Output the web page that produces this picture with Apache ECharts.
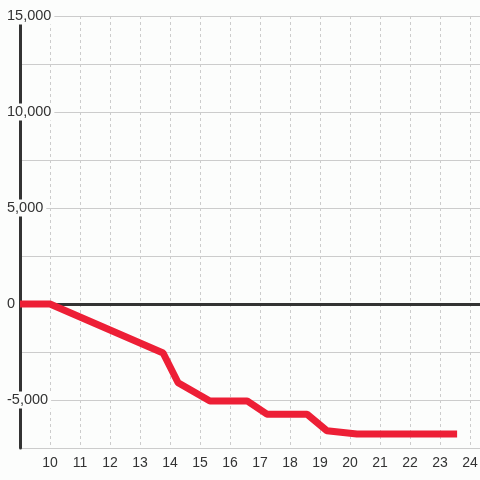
<!DOCTYPE html>
<html>
<head>
<meta charset="utf-8">
<script src="https://cdn.jsdelivr.net/npm/echarts@6/dist/echarts.min.js"></script>
<style>
  html, body { margin: 0; padding: 0; background: #fcfdfc; }
  #main { width: 480px; height: 480px; }
</style>
</head>
<body>
<div id="main"></div>
<script>
// hour of day vs running total
var hours = [9, 10, 13.77, 14.27, 15.33, 16.57, 17.23, 18.57, 19.23, 20.23, 23.57];
var totals = [0, 0, -2550, -4100, -5050, -5050, -5740, -5740, -6600, -6770, -6770];
var yLabelStep = 5000;

function renderChart() {
    var dom = document.getElementById('main');
    var myChart = echarts.init(dom);
    var points = hours.map(function (h, i) { return [h, totals[i]]; });

    var option = {
        backgroundColor: '#fcfdfc',
        animation: false,
        grid: {
            left: 20,
            right: 0,
            top: 16,
            bottom: 32,
            outerBoundsMode: 'none'
        },
        xAxis: {
            type: 'value',
            min: 9,
            max: 24.333,
            interval: 1,
            axisLine: { show: false },
            axisTick: { show: false },
            axisLabel: {
                color: '#333',
                fontSize: 14,
                fontFamily: 'Liberation Sans, Arial, sans-serif',
                margin: 8,
                formatter: function (v) {
                    return (Number.isInteger(v) && v >= 10) ? String(v) : '';
                }
            },
            splitLine: {
                show: true,
                lineStyle: { color: '#cccccc', type: [3, 3], width: 1 }
            },
            z: 0
        },
        yAxis: [{
                // grid lines only
                type: 'value',
                position: 'left',
                min: -7500,
                max: 15000,
                interval: 2500,
                axisLine: { show: false },
                axisTick: { show: false },
                axisLabel: { show: false },
                splitLine: {
                    show: true,
                    lineStyle: { color: '#cccccc', width: 1 }
                },
                z: 0
            },
            {
                // axis line + labels drawn over the grid
                type: 'value',
                position: 'left',
                offset: 0,
                min: -7500,
                max: 15000,
                interval: 2500,
                axisLine: {
                    show: true,
                    lineStyle: { color: '#333', width: 3 }
                },
                axisTick: { show: false },
                splitLine: { show: false },
                axisLabel: {
                    inside: true,
                    align: 'left',
                    margin: -14,
                    formatter: function (v) {
                        if (v % yLabelStep !== 0) return '';
                        return '{b|' + v.toLocaleString('en-US') + '}';
                    },
                    rich: {
                        b: {
                            color: '#333',
                            fontSize: 14.5,
                            fontFamily: 'Liberation Sans, Arial, sans-serif',
                            backgroundColor: '#fcfdfc',
                            padding: [1, 3, 1, 1]
                        }
                    }
                },
                z: 2
            }
        ],
        series: [{
            type: 'line',
            yAxisIndex: 1,
            data: points,
            symbol: 'none',
            lineStyle: { color: '#ed1f36', width: 7 },
            z: 3,
            markLine: {
                silent: true,
                symbol: 'none',
                z: 1,
                label: { show: false },
                lineStyle: { color: '#333', width: 3, type: 'solid' },
                data: [{ yAxis: 0 }]
            }
        }]
    };

    myChart.setOption(option);
}
renderChart();
</script>
</body>
</html>
